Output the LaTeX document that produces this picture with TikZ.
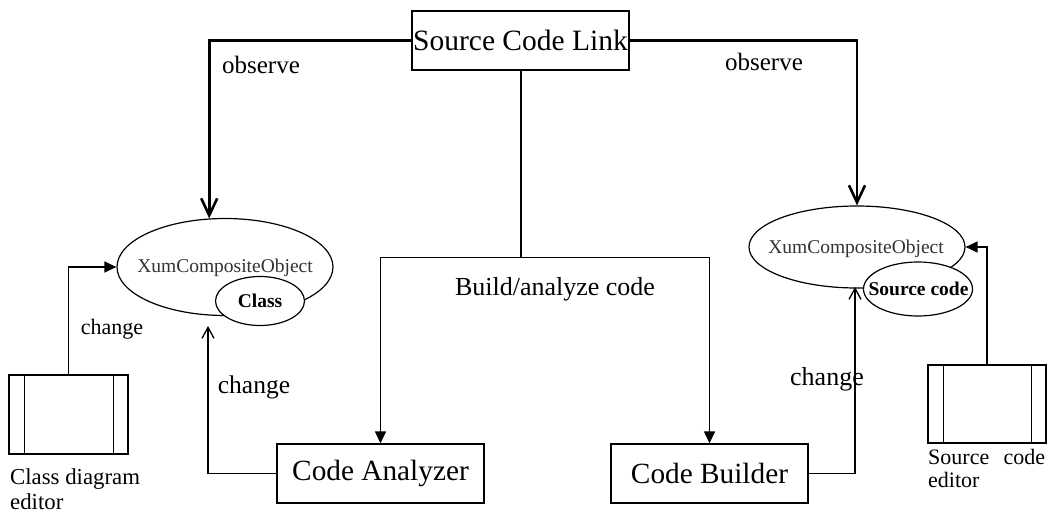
\documentclass[tikz,border=0pt]{standalone}
\usepackage{fontspec}
\setmainfont{Liberation Serif}
\usetikzlibrary{arrows.meta,shapes.geometric}

\newcommand{\fonte}[1]{\fontsize{#1}{#1}\selectfont}

\begin{document}
\begin{tikzpicture}[
    x=1pt,
    y=-1pt,
    every node/.style={font=\fonte{22}, inner sep=0pt},
    caixa/.style={draw=black, line width=1.3pt, minimum height=59pt, font=\fonte{29.3}},
    elipse/.style={ellipse, draw=black, line width=1.2pt, fill=white, minimum width=216pt},
    parte/.style={elipse, font=\fonte{19.5}\bfseries},
    nomeObjeto/.style={font=\fonte{19.5}, text=black!80},
    editor/.style={draw=black, line width=1.3pt, minimum width=118pt, minimum height=78pt,
        path picture={
            \draw[line width=1pt]
                ([xshift=15pt]path picture bounding box.north west) -- ([xshift=15pt]path picture bounding box.south west)
                ([xshift=-15pt]path picture bounding box.north east) -- ([xshift=-15pt]path picture bounding box.south east);
        }},
    observa/.style={line width=2.6pt, -{Straight Barb[length=17pt,width=16pt]}},
    seta/.style={line width=1.3pt, -{Triangle[length=12pt,width=11pt]}},
    setaAberta/.style={line width=1.3pt, -{Straight Barb[length=11pt,width=12pt]}}
]
\useasboundingbox (0,0) rectangle (1050,514);

% Ligação central:
% caixa no topo, da qual saem as observações e a divisão para os construtores.
\node[caixa, minimum width=217pt, font=\fonte{29.5}] (link) at (520.5,40.5) {Source Code Link};

% Objeto composto da classe:
% elipse grande à esquerda, com a parte "Class" sobreposta embaixo à direita.
\node[elipse, minimum height=97pt] (clsObj) at (225,267) {};
\node[nomeObjeto] (clsNome) at (225,268) {XumCompositeObject};
\node[parte, minimum width=89pt, minimum height=49pt] (clsParte) at (260,301) {Class};

% Objeto composto do código-fonte:
% elipse à direita, com a parte "Source code" sobreposta.
\node[elipse, minimum height=82pt] (srcObj) at (857,247) {};
\node[nomeObjeto] (srcNome) at (856,249) {XumCompositeObject};
\node[parte, minimum width=109pt, minimum height=54pt] (srcParte) at (918,289) {};
\node[font=\fonte{19.5}\bfseries] (srcParteNome) at (918.5,289) {Source code};

% Editores:
% retângulos com duas faixas verticais, nos cantos inferiores.
\node[editor, minimum width=119pt, minimum height=79pt] (cde) at (68.5,414.5) {};
\node[anchor=north west, align=left, font=\fontsize{22.8}{25}\selectfont] (cdeNome) at (10,468)
    {Class diagram\\editor};

\node[editor] (sce) at (987,404) {};
\node[anchor=north west, text width=117pt, align=left, font=\fontsize{22}{23}\selectfont] (sceNome) at (928,449)
    {Source\hfill code\\editor};

% Analisador e construtor:
% caixas na base, alimentadas pela divisão que desce da ligação.
\node[caixa, minimum width=207pt] (ca) at (380.5,473.5) {Code Analyzer};
\node[caixa, minimum width=197pt] (cb) at (709.5,473.5) {Code Builder};

% Observações:
% linhas grossas da ligação até o topo de cada objeto composto.
\draw[observa] (link.west) -| (clsObj.108);
\draw[observa] (link.east) -| (srcObj.north);
\node[font=\fonte{25}] (obsEsq) at (261,65) {observe};
\node[font=\fonte{25}] (obsDir) at (764,62) {observe};

% Divisão:
% desce da ligação e se abre para o analisador e o construtor.
\draw[line width=2pt] (link.south) -- ++(0,187) coordinate (divisao);
\draw[seta] (divisao) -| (ca.north);
\draw[seta] (divisao) -| (cb.north);
\node[font=\fonte{26}] (build) at (555,289) {Build/analyze code};

% Mudanças:
% cada editor e cada ferramenta altera o objeto composto correspondente.
\coordinate (clsEntrada) at (208,326);
\coordinate (srcEntrada) at (855,287);
\draw[seta] (cde.north) |- (clsObj.west);
\draw[setaAberta] (ca.west) -| (clsEntrada);
\draw[setaAberta] (cb.east) -| (srcEntrada);
\draw[seta] (sce.north) |- (srcObj.east);
\node (mudCde) at (112,329) {change};
\node[font=\fonte{25.5}] (mudCa) at (254,387) {change};
\node[font=\fonte{26}] (mudCb) at (827,379) {change};

\end{tikzpicture}
\end{document}
